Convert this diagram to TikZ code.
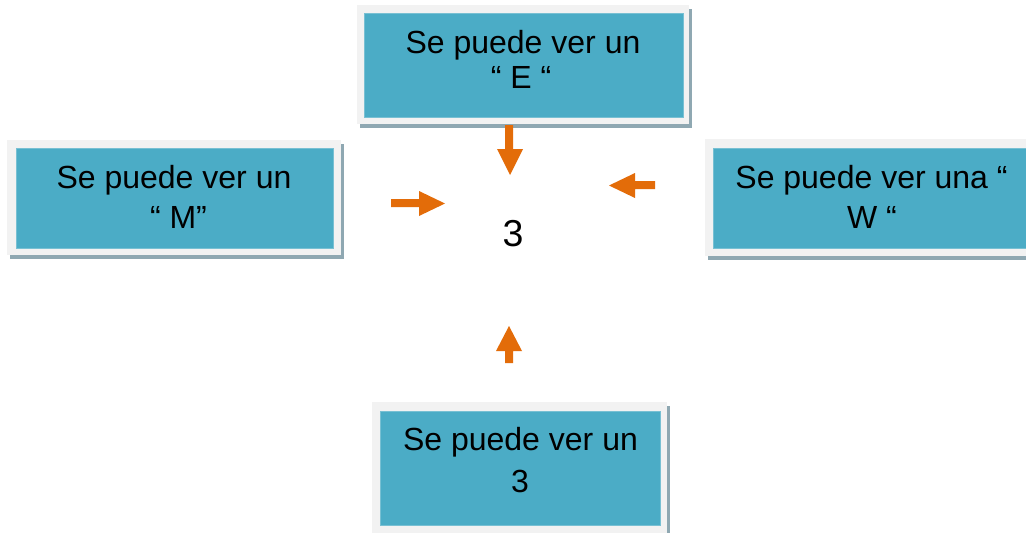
\documentclass[tikz,border=0pt]{standalone}
\usepackage{fontspec}
\setmainfont{Liberation Sans}
\definecolor{teal1}{HTML}{4BACC6}
\definecolor{tealedge}{HTML}{78C0D3}
\definecolor{frame1}{HTML}{F2F2F2}
\definecolor{shadow1}{HTML}{8FA8B2}
\definecolor{orange1}{HTML}{E36C09}
\tikzset{
  shadowbox/.style={fill=shadow1, draw=none},
  framebox/.style={fill=frame1, draw=none},
  tealbox/.style={fill=teal1, draw=tealedge, line width=0.8pt},
  boxtext/.style={anchor=base, inner sep=0pt, font=\fontsize{32}{38}\selectfont},
  bigtext/.style={anchor=base, inner sep=0pt, font=\fontsize{37.5}{44}\selectfont},
  blockarrow/.style={fill=orange1, draw=none},
}
\begin{document}
\begin{tikzpicture}[x=1pt,y=-1pt]
\useasboundingbox (0,0) rectangle (1026,533);
\clip (0,0) rectangle (1026,533);
\fill[white] (0,0) rectangle (1026,533);
% top box
\fill[shadowbox] (360,9) rectangle (692,128);
\fill[framebox] (357,5) rectangle (689,124);
\filldraw[tealbox] (364,13) rectangle (683,117);
\node[boxtext] (t1) at (523,53) {Se puede ver un};
\node[boxtext] (t2) at (521,88) {“ E “};
% left box
\fill[shadowbox] (10,144) rectangle (344,259);
\fill[framebox] (7,140) rectangle (341,255);
\filldraw[tealbox] (16,148) rectangle (333,248);
\node[boxtext] (l1) at (174,188) {Se puede ver un};
\node[boxtext] (l2) at (178.5,228) {“ M”};
% right box
\fill[shadowbox] (708,143) rectangle (1045,260);
\fill[framebox] (705,139) rectangle (1042,256);
\filldraw[tealbox] (713,148) rectangle (1040,248);
\node[boxtext] (r1) at (871.5,188) {Se puede ver una “};
\node[boxtext] (r2) at (872,228) {W “};
% bottom box
\fill[shadowbox] (375,406) rectangle (670,545);
\fill[framebox] (372,402) rectangle (667,545);
\filldraw[tealbox] (380,411) rectangle (660,525);
\node[boxtext] (b1) at (520.5,450) {Se puede ver un};
\node[boxtext] (b2) at (520,492) {3};
% centre
\node[bigtext] (c) at (513,246) {3};
% arrows
\fill[blockarrow] (505,125) -- (513,125) -- (513,149) -- (523,149) -- (510,175) -- (497,149) -- (505,149) -- cycle;
\fill[blockarrow] (391,199) -- (419,199) -- (419,191) -- (445,203.5) -- (419,216) -- (419,207) -- (391,207) -- cycle;
\fill[blockarrow] (655,181) -- (635,181) -- (635,173) -- (609,185.5) -- (635,198) -- (635,189) -- (655,189) -- cycle;
\fill[blockarrow] (505,363) -- (513,363) -- (513,351) -- (522,351) -- (509,326) -- (496,351) -- (505,351) -- cycle;
\end{tikzpicture}
\end{document}
